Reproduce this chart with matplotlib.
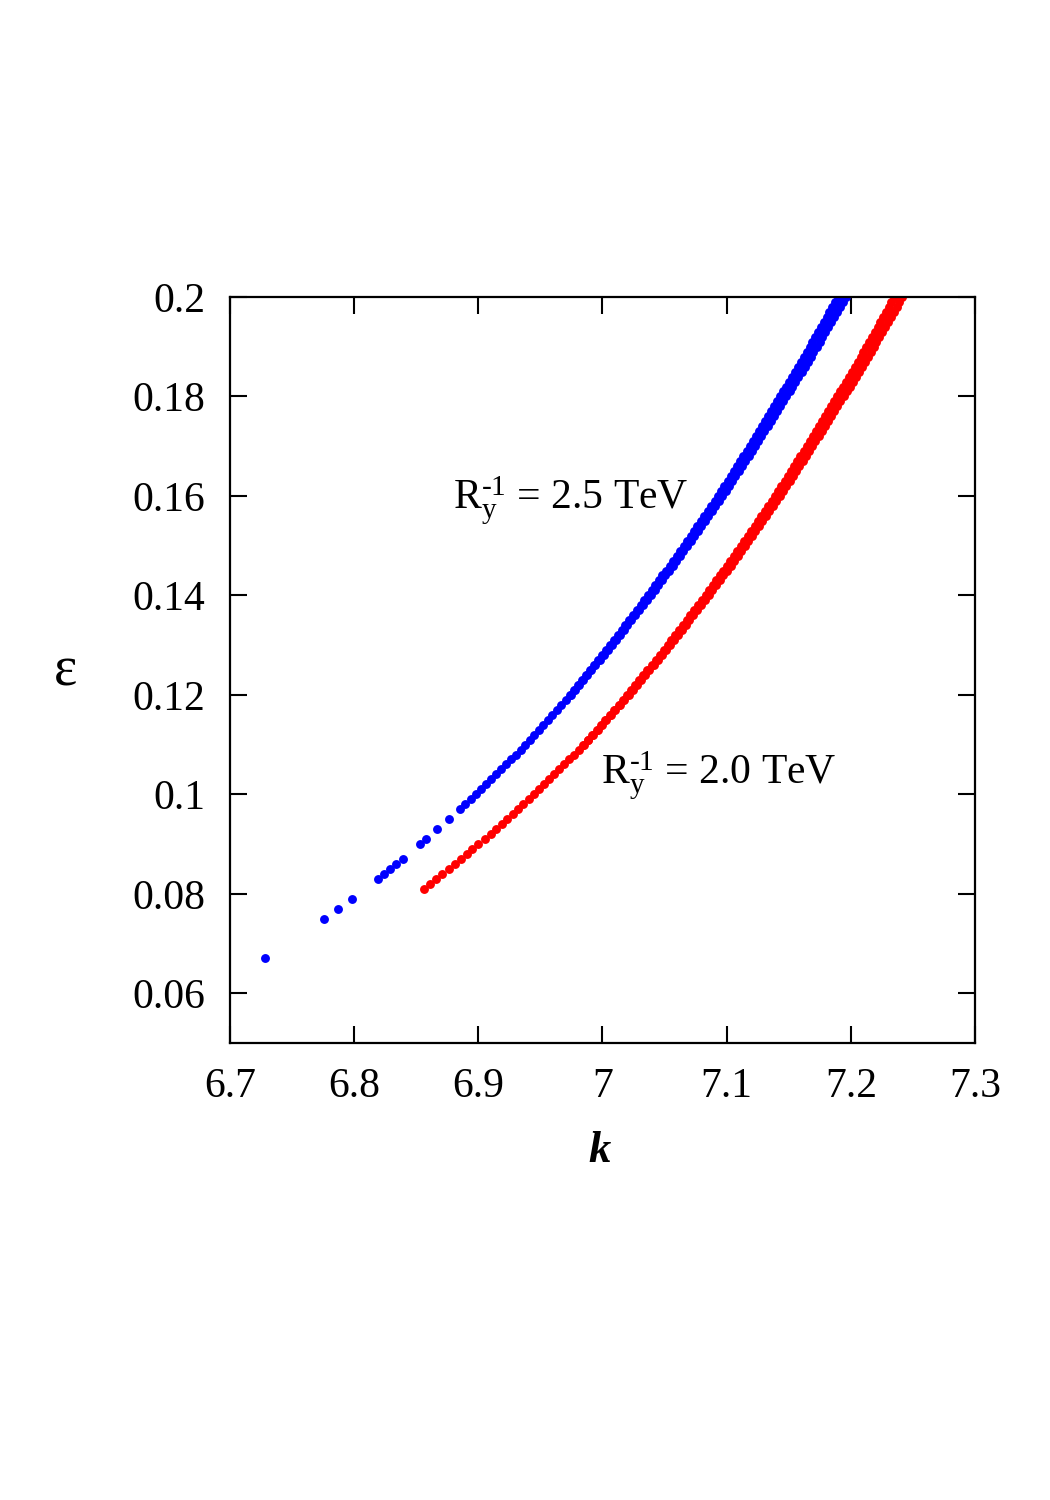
import matplotlib
matplotlib.use('Agg')
import matplotlib.pyplot as plt

plt.rcParams['font.family'] = ['Liberation Serif', 'DejaVu Serif']
plt.rcParams['mathtext.fontset'] = 'custom'
plt.rcParams['mathtext.rm'] = 'Liberation Serif'
plt.rcParams['mathtext.it'] = 'Liberation Serif:italic'

# ---- data ----
# R_y^-1 = 2.5 TeV (blue); in the upper part the band is two points wide
blue_eps = [0.067, 0.075, 0.077, 0.079, 0.083, 0.084, 0.085, 0.086, 0.087, 0.090,
            0.091, 0.093, 0.095, 0.097, 0.098, 0.099,
            0.100, 0.101, 0.102, 0.103, 0.104, 0.105, 0.106, 0.107, 0.108, 0.109,
            0.110, 0.111, 0.112, 0.113, 0.114, 0.115, 0.116, 0.117, 0.118, 0.119,
            0.120, 0.121, 0.122, 0.123, 0.124, 0.125, 0.126, 0.127, 0.128, 0.129,
            0.130, 0.131, 0.132, 0.133, 0.134, 0.135, 0.136, 0.137, 0.138, 0.139,
            0.140, 0.141, 0.142, 0.143, 0.144, 0.145, 0.146, 0.147, 0.148, 0.149,
            0.150, 0.151, 0.152, 0.153, 0.154, 0.155, 0.156, 0.157, 0.158, 0.159,
            0.160, 0.161, 0.162, 0.163, 0.164, 0.165, 0.166, 0.167, 0.168, 0.169,
            0.170, 0.171, 0.172, 0.173, 0.174, 0.175, 0.176, 0.177, 0.178, 0.179,
            0.180, 0.181, 0.182, 0.183, 0.184, 0.185, 0.186, 0.187, 0.188, 0.189,
            0.190, 0.191, 0.192, 0.193, 0.194, 0.195, 0.196, 0.197, 0.198, 0.199,
            0.200]
blue_k = [6.728, 6.776, 6.787, 6.7985, 6.819, 6.824, 6.829, 6.834, 6.839, 6.853,
          6.858, 6.867, 6.876, 6.885, 6.889, 6.894,
          6.898, 6.902, 6.906, 6.910, 6.914, 6.918, 6.922, 6.926, 6.930, 6.934,
          6.938, 6.9416, 6.9452, 6.9488, 6.9524, 6.956, 6.9596, 6.9632, 6.9668, 6.9704,
          6.9736, 6.9769, 6.9801, 6.9834, 6.9866, 6.9899, 6.9932, 6.9964, 6.9997, 7.0029,
          7.0062, 7.0093, 7.0123, 7.0154, 7.0184, 7.0215, 7.0246, 7.0276, 7.0307, 7.0337,
          7.0368, 7.0397, 7.0425, 7.0454, 7.0482, 7.0511, 7.0540, 7.0568, 7.0597, 7.0625,
          7.0654, 7.0682, 7.0709, 7.0737, 7.0764, 7.0792, 7.0820, 7.0847, 7.0875, 7.0902,
          7.0930, 7.0956, 7.0981, 7.1007, 7.1032, 7.1058, 7.1084, 7.1109, 7.1135, 7.1160,
          7.1186, 7.1211, 7.1235, 7.1260, 7.1284, 7.1309, 7.1334, 7.1358, 7.1383, 7.1407,
          7.1432, 7.1456, 7.1479, 7.1503, 7.1526, 7.1550, 7.1574, 7.1597, 7.1621, 7.1644,
          7.1668, 7.1691, 7.1713, 7.1736, 7.1758, 7.1781, 7.1804, 7.1826, 7.1849, 7.1871,
          7.1894]
blue_k_edge = [6.9743, 6.9777, 6.9809, 6.9843, 6.9876, 6.9910, 6.9943, 6.9976, 7.0010, 7.0042,
               7.0076, 7.0108, 7.0138, 7.0170, 7.0201, 7.0233, 7.0264, 7.0295, 7.0327, 7.0357,
               7.0389, 7.0419, 7.0447, 7.0477, 7.0506, 7.0536, 7.0565, 7.0594, 7.0624, 7.0652,
               7.0682, 7.0711, 7.0738, 7.0767, 7.0795, 7.0824, 7.0852, 7.0880, 7.0909, 7.0936,
               7.0965, 7.0992, 7.1017, 7.1044, 7.1070, 7.1097, 7.1123, 7.1149, 7.1176, 7.1201,
               7.1228, 7.1254, 7.1278, 7.1304, 7.1329, 7.1355, 7.1380, 7.1405, 7.1431, 7.1455,
               7.1481, 7.1506, 7.1529, 7.1554, 7.1578, 7.1603, 7.1627, 7.1651, 7.1676, 7.1699,
               7.1724, 7.1748, 7.1770, 7.1794, 7.1817, 7.1841, 7.1864, 7.1887, 7.1911, 7.1933,
               7.1957]
blue_eps_edge = blue_eps[-len(blue_k_edge):]

# R_y^-1 = 2.0 TeV (red)
red_eps = [0.081, 0.082, 0.083, 0.084, 0.085, 0.086, 0.087, 0.088, 0.089,
           0.090, 0.091, 0.092, 0.093, 0.094, 0.095, 0.096, 0.097, 0.098, 0.099,
           0.100, 0.101, 0.102, 0.103, 0.104, 0.105, 0.106, 0.107, 0.108, 0.109,
           0.110, 0.111, 0.112, 0.113, 0.114, 0.115, 0.116, 0.117, 0.118, 0.119,
           0.120, 0.121, 0.122, 0.123, 0.124, 0.125, 0.126, 0.127, 0.128, 0.129,
           0.130, 0.131, 0.132, 0.133, 0.134, 0.135, 0.136, 0.137, 0.138, 0.139,
           0.140, 0.141, 0.142, 0.143, 0.144, 0.145, 0.146, 0.147, 0.148, 0.149,
           0.150, 0.151, 0.152, 0.153, 0.154, 0.155, 0.156, 0.157, 0.158, 0.159,
           0.160, 0.161, 0.162, 0.163, 0.164, 0.165, 0.166, 0.167, 0.168, 0.169,
           0.170, 0.171, 0.172, 0.173, 0.174, 0.175, 0.176, 0.177, 0.178, 0.179,
           0.180, 0.181, 0.182, 0.183, 0.184, 0.185, 0.186, 0.187, 0.188, 0.189,
           0.190, 0.191, 0.192, 0.193, 0.194, 0.195, 0.196, 0.197, 0.198, 0.199,
           0.200]
red_k = [6.856, 6.861, 6.866, 6.871, 6.876, 6.881, 6.886, 6.891, 6.895,
         6.900, 6.905, 6.910, 6.914, 6.919, 6.923, 6.928, 6.932, 6.936, 6.941,
         6.945, 6.949, 6.953, 6.957, 6.961, 6.965, 6.969, 6.973, 6.977, 6.981,
         6.9845, 6.9880, 6.9916, 6.9952, 6.9987, 7.0022, 7.0058, 7.0093, 7.0129, 7.0164,
         7.0200, 7.0232, 7.0265, 7.0297, 7.0330, 7.0362, 7.0395, 7.0427, 7.0460, 7.0492,
         7.0525, 7.0555, 7.0586, 7.0616, 7.0647, 7.0677, 7.0708, 7.0738, 7.0769, 7.0799,
         7.0830, 7.0858, 7.0887, 7.0915, 7.0944, 7.0972, 7.1001, 7.1029, 7.1058, 7.1086,
         7.1115, 7.1142, 7.1170, 7.1197, 7.1225, 7.1252, 7.1280, 7.1307, 7.1335, 7.1362,
         7.1390, 7.1415, 7.1441, 7.1466, 7.1492, 7.1517, 7.1543, 7.1568, 7.1594, 7.1619,
         7.1645, 7.1669, 7.1694, 7.1718, 7.1743, 7.1767, 7.1792, 7.1816, 7.1841, 7.1865,
         7.1890, 7.1913, 7.1937, 7.1960, 7.1984, 7.2007, 7.2031, 7.2054, 7.2078, 7.2101,
         7.2125, 7.2147, 7.2170, 7.2192, 7.2215, 7.2237, 7.2260, 7.2282, 7.2305, 7.2327,
         7.2350]
red_k_edge = [6.9852, 6.9887, 6.9924, 6.9960, 6.9996, 7.0032, 7.0068, 7.0104, 7.0141, 7.0176,
              7.0213, 7.0246, 7.0279, 7.0312, 7.0346, 7.0378, 7.0412, 7.0445, 7.0478, 7.0511,
              7.0545, 7.0575, 7.0607, 7.0637, 7.0669, 7.0700, 7.0731, 7.0762, 7.0794, 7.0824,
              7.0856, 7.0885, 7.0914, 7.0943, 7.0973, 7.1001, 7.1031, 7.1060, 7.1089, 7.1118,
              7.1148, 7.1175, 7.1204, 7.1231, 7.1260, 7.1288, 7.1316, 7.1344, 7.1373, 7.1400,
              7.1429, 7.1455, 7.1481, 7.1507, 7.1534, 7.1559, 7.1586, 7.1612, 7.1638, 7.1664,
              7.1691, 7.1715, 7.1741, 7.1765, 7.1791, 7.1816, 7.1841, 7.1866, 7.1892, 7.1916,
              7.1942, 7.1966, 7.1990, 7.2014, 7.2039, 7.2062, 7.2087, 7.2111, 7.2135, 7.2159,
              7.2184, 7.2206, 7.2230, 7.2252, 7.2276, 7.2299, 7.2322, 7.2345, 7.2369, 7.2391,
              7.2415]
red_eps_edge = red_eps[-len(red_k_edge):]

x_ticks = [6.7, 6.8, 6.9, 7.0, 7.1, 7.2, 7.3]
x_ticklabels = ['6.7', '6.8', '6.9', '7', '7.1', '7.2', '7.3']
y_ticks = [0.06, 0.08, 0.10, 0.12, 0.14, 0.16, 0.18, 0.20]
y_ticklabels = ['0.06', '0.08', '0.1', '0.12', '0.14', '0.16', '0.18', '0.2']

label_blue = r'$\mathrm{R}_\mathrm{y}^{\text{-1}}$ = 2.5 TeV'
label_red = r'$\mathrm{R}_\mathrm{y}^{\text{-1}}$ = 2.0 TeV'

# ---- figure ----
fig = plt.figure(figsize=(10.5, 15), dpi=100)
ax = fig.add_axes([0.219, 0.3047, 0.7096, 0.4973])

ms = 6.4
ax.plot(blue_k, blue_eps, 'o', color='#0000ff', ms=ms, mec='none')
ax.plot(blue_k_edge, blue_eps_edge, 'o', color='#0000ff', ms=ms, mec='none')
ax.plot(red_k, red_eps, 'o', color='#ff0000', ms=ms, mec='none')
ax.plot(red_k_edge, red_eps_edge, 'o', color='#ff0000', ms=ms, mec='none')

ax.set_xlim(6.7, 7.3)
ax.set_ylim(0.05, 0.2)
ax.set_xticks(x_ticks)
ax.set_xticklabels(x_ticklabels)
ax.set_yticks(y_ticks)
ax.set_yticklabels(y_ticklabels)
ax.tick_params(direction='in', length=12, width=1.5, top=True, right=True,
               labelsize=30, pad=18)
for sp in ax.spines.values():
    sp.set_linewidth(1.6)

ax.text(6.8796, 0.1572, label_blue, fontsize=30, va='baseline')
ax.text(6.999, 0.1019, label_red, fontsize=30, va='baseline')

fig.text(0.062, 0.552, 'ε', fontsize=40, ha='center', va='center')
fig.text(0.571, 0.233, 'k', fontsize=32, ha='center', va='center',
         fontweight='bold', fontstyle='italic')

fig.savefig('out.png', dpi=100, facecolor='white')
